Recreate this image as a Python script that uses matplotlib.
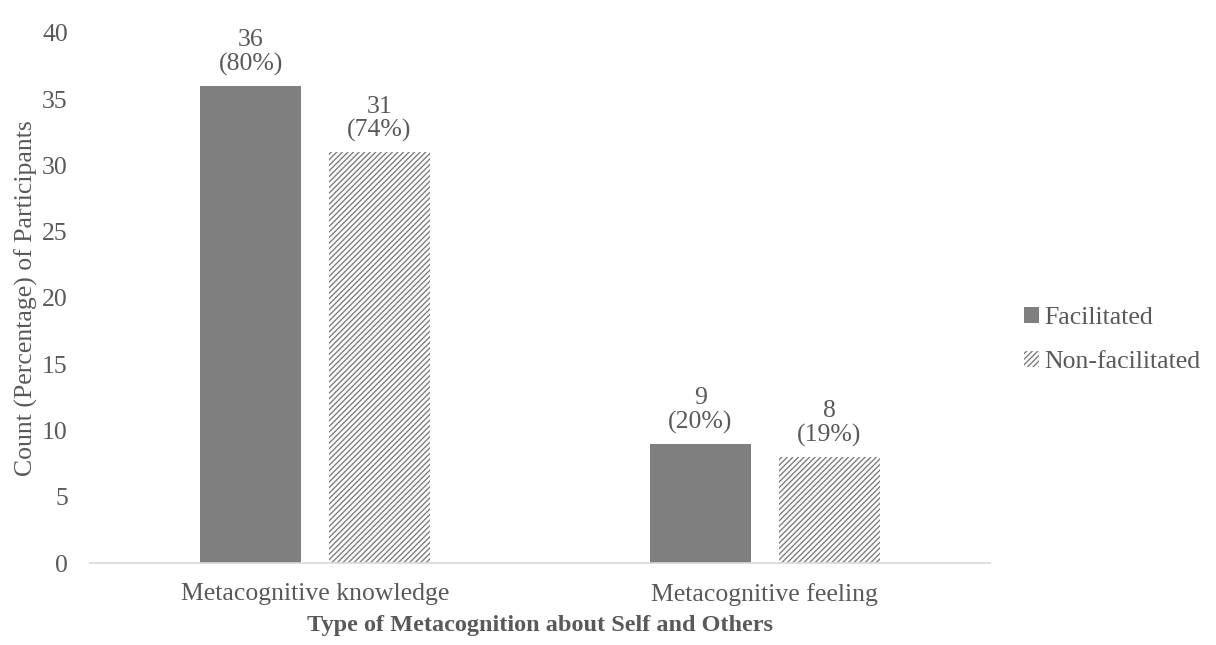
import numpy as np
import matplotlib.pyplot as plt

categories = ["Metacognitive knowledge", "Metacognitive feeling"]
facilitated = [36, 9]
non_facilitated = [31, 8]
fac_pct = ["80%", "20%"]
nonfac_pct = ["74%", "19%"]

plt.rcParams["font.family"] = ["Liberation Serif", "DejaVu Serif"]
plt.rcParams["hatch.linewidth"] = 1.0
txt = "#595959"
grey = "#7f7f7f"
fs = 18.5

fig = plt.figure(figsize=(12.16, 6.45), dpi=100)
ax = fig.add_axes([0.074, 0.127, 0.74, 0.822])

x = np.arange(len(categories))
w = 0.224
off = 0.143
b1 = ax.bar(x - off, facilitated, w, color=grey, label="Facilitated")
b2 = ax.bar(x + off, non_facilitated, w, color="white", edgecolor=grey,
            linewidth=0, hatch="//////", label="Non-facilitated")

# labels above bars: count and percentage
for rects, vals, pcts in [(b1, facilitated, fac_pct), (b2, non_facilitated, nonfac_pct)]:
    for r, v, p in zip(rects, vals, pcts):
        ax.annotate(f"{v}\n({p})", (r.get_x() + r.get_width() / 2, v),
                    xytext=(0, 7), textcoords="offset points",
                    ha="center", va="bottom", fontsize=fs, color=txt,
                    linespacing=1.1)

ax.set_xlim(-0.5, 1.5)
ax.set_ylim(0, 40)
ax.set_yticks(range(0, 41, 5))
ax.set_xticks(x)
ax.set_xticklabels(categories)
ax.tick_params(length=0, labelsize=fs, labelcolor=txt)
ax.tick_params(axis="y", pad=16)
ax.tick_params(axis="x", pad=14)
for s in ["top", "right", "left"]:
    ax.spines[s].set_visible(False)
ax.spines["bottom"].set_color("#d9d9d9")
ax.spines["bottom"].set_linewidth(1.2)

ax.set_ylabel("Count (Percentage) of Participants", fontsize=fs, color=txt)
ax.yaxis.set_label_coords(-0.058, 0.5)
ax.set_xlabel("Type of Metacognition about Self and Others", fontsize=17.5,
              fontweight="bold", color=txt, labelpad=7)

leg = fig.legend(handles=[b1, b2], loc="center left", bbox_to_anchor=(0.842, 0.473),
                 frameon=False, fontsize=fs, handlelength=0.6, handleheight=0.6,
                 handletextpad=0.2, labelspacing=0.85, borderpad=0, borderaxespad=0)
for t in leg.get_texts():
    t.set_color(txt)

fig.savefig("out.png", dpi=100)
